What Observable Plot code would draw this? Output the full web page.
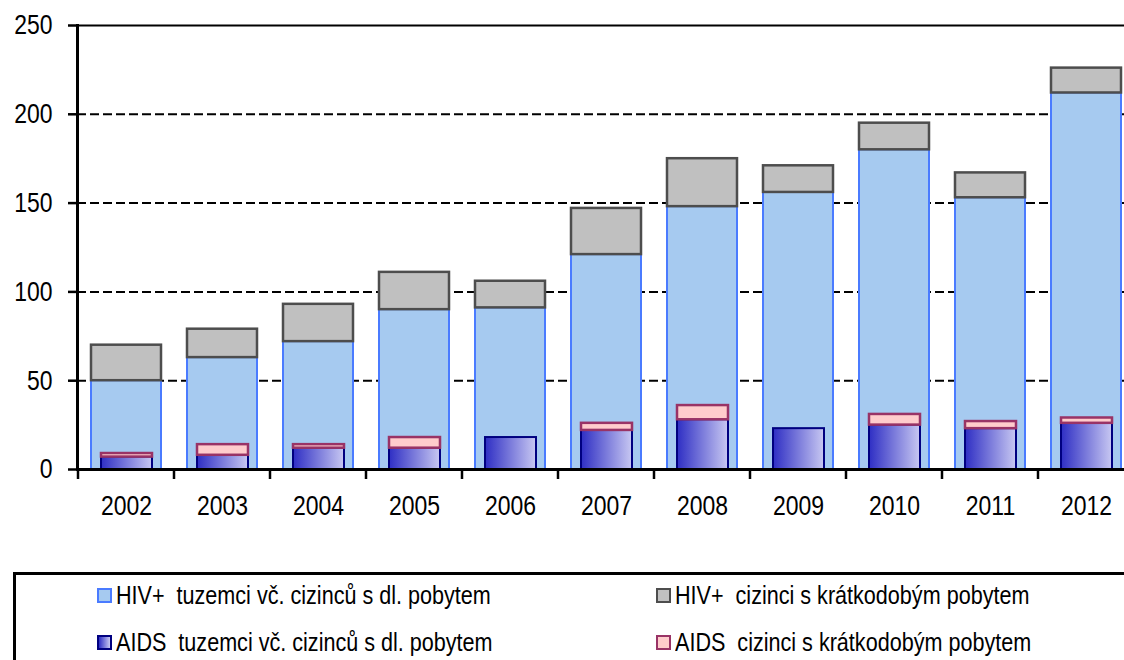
<!DOCTYPE html>
<html>
<head>
<meta charset="utf-8">
<script src="https://cdn.jsdelivr.net/npm/d3@7"></script>
<script src="https://cdn.jsdelivr.net/npm/@observablehq/plot@0.6"></script>
<style>
  html, body { margin: 0; padding: 0; background: #fff; overflow: hidden; width: 1124px; height: 660px; }
  #wrap { position: relative; width: 1124px; height: 660px; overflow: hidden; }
  #legend { position: absolute; left: 13px; top: 572px; width: 1200px; height: 200px;
            border-top: 3px solid #000; border-left: 3px solid #000; box-sizing: border-box; }
  .item { position: absolute; height: 30px; display: flex; align-items: center;
          font-family: 'Liberation Sans', Arial, sans-serif;
          font-size: 26px; color: #000; white-space: pre; }
  .sw { width: 11px; height: 11px; margin-right: 4px; flex: none; }
  .lbl { display: inline-block; transform: scaleX(0.83); transform-origin: 0 50%; }
</style>
</head>
<body>
<div id="wrap">
  <div id="chart"></div>
  <div id="legend"></div>
</div>
<script>
const years = ["2002","2003","2004","2005","2006","2007","2008","2009","2010","2011","2012"];
const hivDomestic = [50, 63, 72, 90, 91, 121, 148, 156, 180, 153, 212];
const hivForeign  = [20, 16, 21, 21, 15, 26, 27, 15, 15, 14, 14];
const aidsDomestic = [7, 8, 12, 12, 18, 22, 28, 23, 25, 23, 26];
const aidsForeign  = [2, 6, 2, 6, 0, 4, 8, 0, 6, 4, 3];
const yTicks = [0, 50, 100, 150, 200, 250];
const seriesLabels = [
  "HIV+  tuzemci vč. cizinců s dl. pobytem",
  "HIV+  cizinci s krátkodobým pobytem",
  "AIDS  tuzemci vč. cizinců s dl. pobytem",
  "AIDS  cizinci s krátkodobým pobytem"
];

const rows = years.map((year, i) => ({
  year,
  hd: hivDomestic[i], hf: hivForeign[i],
  ad: aidsDomestic[i], af: aidsForeign[i]
}));

const font = "'Liberation Sans', Arial, sans-serif";

const chart = Plot.plot({
  width: 1134,
  height: 530,
  marginLeft: 77,
  marginRight: 0,
  marginTop: 25,
  marginBottom: 61,
  style: { fontFamily: font, maxWidth: "none", color: "#000", background: "#fff", overflow: "visible" },
  x: { type: "band", domain: years, paddingInner: 0, paddingOuter: 0, axis: null },
  y: { domain: [0, 250], axis: null },
  marks: [
    Plot.ruleY(yTicks.filter(t => t > 0 && t < 250), { stroke: "#000", strokeWidth: 2, strokeDasharray: "9,4" }),
    Plot.ruleY([250], { stroke: "#000", strokeWidth: 2 }),
    Plot.barY(rows, { x: "year", y1: 0, y2: "hd", fill: "#a6caf0", stroke: "#4a7bff", strokeWidth: 2, insetLeft: 13, insetRight: 13 }),
    Plot.barY(rows, { x: "year", y1: "hd", y2: d => d.hd + d.hf, fill: "#c0c0c0", stroke: "#4d4d4d", strokeWidth: 2.5, insetLeft: 13, insetRight: 13 }),
    Plot.barY(rows, { x: "year", y1: 0, y2: "ad", fill: "url(#aidsGrad)", stroke: "#000080", strokeWidth: 2, insetLeft: 23, insetRight: 22 }),
    Plot.barY(rows.filter(d => d.af > 0), { x: "year", y1: "ad", y2: d => d.ad + d.af, fill: "#ffcccc", stroke: "#993366", strokeWidth: 2.5, insetLeft: 23, insetRight: 22 }),
    Plot.ruleY([0], { stroke: "#000", strokeWidth: 3 }),
    Plot.frame({ anchor: "left", stroke: "#000", strokeWidth: 3 }),
    Plot.axisY({ ticks: yTicks, tickSize: 9, tickPadding: 16, fontSize: 28, strokeWidth: 2.5, tickFormat: d => String(d), label: null }),
    Plot.axisX({ tickSize: 0, tickPadding: 26, fontSize: 28, label: null })
  ]
});

// gradient definition for AIDS domestic bars
const svg = d3.select(chart);
const defs = svg.insert("defs", ":first-child");
const grad = defs.append("linearGradient").attr("id", "aidsGrad").attr("x1", "0").attr("x2", "1").attr("y1", "0").attr("y2", "0");
grad.append("stop").attr("offset", "0").attr("stop-color", "#2e2ec4");
grad.append("stop").attr("offset", "1").attr("stop-color", "#c8c8f2");

// category boundary ticks on x axis (from library scales)
const xs = chart.scale("x");
const ys = chart.scale("y");
const y0 = ys.apply(0);
const bounds = years.map(y => xs.apply(y)).concat([xs.apply(years[years.length - 1]) + xs.bandwidth]);
svg.append("g").selectAll("line").data(bounds).join("line")
  .attr("x1", d => d).attr("x2", d => d)
  .attr("y1", y0).attr("y2", y0 + 10)
  .attr("stroke", "#000").attr("stroke-width", 2.5);

document.getElementById("chart").appendChild(chart);

// condense tick label glyphs (the original uses a narrow typeface)
svg.selectAll("text").each(function () {
  const len = this.getComputedTextLength();
  if (len > 0) {
    this.setAttribute("textLength", (len * 0.82).toFixed(1));
    this.setAttribute("lengthAdjust", "spacingAndGlyphs");
  }
});

// legend
const legend = document.getElementById("legend");
const swatchStyles = [
  "background:#a6caf0;border:2px solid #4a7bff;",
  "background:#c0c0c0;border:2px solid #4d4d4d;",
  "background:linear-gradient(to right,#2e2ec4,#c8c8f2);border:2px solid #000080;",
  "background:#ffcccc;border:2px solid #993366;"
];
const pos = [[81, 5], [640, 5], [81, 52], [640, 52]];
seriesLabels.forEach((label, i) => {
  const it = document.createElement("div");
  it.className = "item";
  it.style.left = pos[i][0] + "px";
  it.style.top = pos[i][1] + "px";
  const sw = document.createElement("span");
  sw.className = "sw";
  sw.style.cssText = swatchStyles[i];
  it.appendChild(sw);
  const tx = document.createElement("span");
  tx.className = "lbl";
  tx.textContent = label;
  it.appendChild(tx);
  legend.appendChild(it);
});
</script>
</body>
</html>
